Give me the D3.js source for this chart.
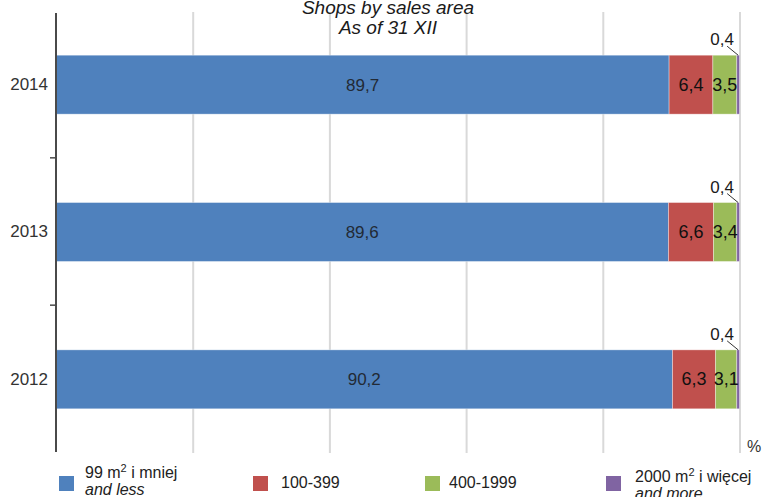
<!DOCTYPE html>
<html>
<head>
<meta charset="utf-8">
<script src="https://cdn.jsdelivr.net/npm/d3@7"></script>
<style>
  html, body { margin: 0; padding: 0; background: #fff; }
  svg { display: block; font-family: "Liberation Sans", Arial, sans-serif; }
</style>
</head>
<body>
<svg id="chart" width="762" height="497"></svg>
<script>
// Shares of shops by sales area, per year (percent)
const years = ["2014", "2013", "2012"];
const seriesKeys = ["s99", "s100", "s400", "s2000"];
const small99 = [89.7, 89.6, 90.2];
const mid100 = [6.4, 6.6, 6.3];
const mid400 = [3.5, 3.4, 3.1];
const large2000 = [0.4, 0.4, 0.4];
const xTicks = [0, 20, 40, 60, 80, 100];
const colors = ["#4F81BD", "#C0504D", "#9BBB59", "#8064A2"];

const rows = years.map((y, i) => ({
  year: y, s99: small99[i], s100: mid100[i], s400: mid400[i], s2000: large2000[i]
}));

const svg = d3.select("#chart");
const fmt = d3.formatLocale({ decimal: ",", thousands: " ", grouping: [3], currency: ["", ""] }).format(".1f");

const x = d3.scaleLinear().domain([0, 100]).range([56, 739.5]);
const y = d3.scaleBand().domain(years).range([11, 453]).paddingInner(0.6).paddingOuter(0.3);

// vertical gridlines
svg.append("g")
  .attr("transform", `translate(0,453)`)
  .call(d3.axisBottom(x).tickValues(xTicks.slice(1)).tickSize(-441).tickFormat(""))
  .call(g => g.select(".domain").remove())
  .call(g => g.selectAll(".tick line").attr("stroke", "#d9d9d9").attr("stroke-width", 2));

// stacked bars
const stack = d3.stack().keys(seriesKeys)(rows);
const layers = svg.append("g").selectAll("g")
  .data(stack).join("g")
  .attr("fill", (d, i) => colors[i]);

layers.selectAll("rect")
  .data(d => d.map(v => ({ v, key: d.key })))
  .join("rect")
  .attr("x", d => x(d.v[0]))
  .attr("width", d => x(d.v[1]) - x(d.v[0]))
  .attr("y", d => y(d.v.data.year))
  .attr("height", y.bandwidth())
  .attr("stroke", "#ffffff")
  .attr("stroke-opacity", 0.45)
  .attr("stroke-width", 0.8);

// value labels inside segments; the tiny share sits above with a leader line
const labels = svg.append("g").attr("font-size", 17).attr("fill", "#1a1a1a");
stack.forEach((layer, li) => {
  layer.forEach(v => {
    const val = v[1] - v[0];
    const yTop = y(v.data.year);
    if (val >= 1) {
      labels.append("text")
        .attr("x", (x(v[0]) + x(v[1])) / 2)
        .attr("y", yTop + y.bandwidth() / 2 + 6)
        .attr("text-anchor", "middle")
        .attr("fill", li === 0 ? "#222a35" : "#111")
        .attr("font-size", li === 0 ? 17 : 18)
        .text(fmt(val));
    } else {
      const cx = (x(v[0]) + x(v[1])) / 2;
      labels.append("text")
        .attr("x", cx - 16)
        .attr("y", yTop - 10)
        .attr("text-anchor", "middle")
        .attr("font-size", 17)
        .text(fmt(val));
      labels.append("line")
        .attr("x1", cx - 11).attr("y1", yTop - 9)
        .attr("x2", cx).attr("y2", yTop)
        .attr("stroke", "#333").attr("stroke-width", 1);
    }
  });
});

// category axis
const yAxis = svg.append("g")
  .attr("transform", "translate(56,0)")
  .call(d3.axisLeft(y).tickSize(0).tickPadding(8))
  .call(g => g.select(".domain").remove());
yAxis.selectAll("text").attr("font-size", 17).attr("fill", "#333").attr("font-family", "Liberation Sans, Arial, sans-serif");

svg.append("line")
  .attr("x1", 56).attr("x2", 56).attr("y1", 13).attr("y2", 452)
  .attr("stroke", "#4a4a4a").attr("stroke-width", 2);

// boundary ticks between years
years.slice(1).forEach(yr => {
  const yy = y(yr) - y.step() * y.paddingInner() / 2 - 0.5;
  svg.append("line")
    .attr("x1", 50).attr("x2", 56).attr("y1", yy).attr("y2", yy)
    .attr("stroke", "#4a4a4a").attr("stroke-width", 1.5);
});

// unit
svg.append("text").attr("x", 747).attr("y", 452).attr("font-size", 16).attr("fill", "#333").text("%");

// title
const title = svg.append("g").attr("font-style", "italic").attr("font-size", 19).attr("fill", "#1a1a1a").attr("text-anchor", "middle");
title.append("text").attr("x", 388).attr("y", 14).text("Shops by sales area");
title.append("text").attr("x", 388).attr("y", 34).text("As of 31 XII");

// legend
const legend = svg.append("g").attr("font-size", 16).attr("fill", "#222");
const legendItems = [
  { sx: 59, tx: 85, lines: [["99 m", "2", " i mniej"], ["and less"]], base: 478 },
  { sx: 253, tx: 281, lines: [["100-399"]], base: 488 },
  { sx: 425, tx: 449, lines: [["400-1999"]], base: 488 },
  { sx: 606, tx: 635, lines: [["2000 m", "2", " i więcej"], ["and more"]], base: 482 }
];
legendItems.forEach((it, i) => {
  legend.append("rect").attr("x", it.sx).attr("y", 476).attr("width", 15).attr("height", 15).attr("fill", colors[i]);
  it.lines.forEach((ln, j) => {
    const t = legend.append("text").attr("x", it.tx).attr("y", it.base + j * 17);
    if (j === 1) t.attr("font-style", "italic");
    if (ln.length === 3) {
      t.append("tspan").text(ln[0]);
      t.append("tspan").attr("dy", -6).attr("font-size", 11).text(ln[1]);
      t.append("tspan").attr("dy", 6).text(ln[2]);
    } else {
      t.text(ln[0]);
    }
  });
});
</script>
</body>
</html>
